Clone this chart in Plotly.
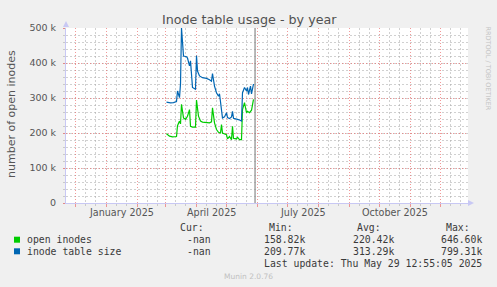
import plotly.graph_objects as go
import pandas as pd

# ---------------- data ----------------
title_text = "Inode table usage - by year"
y_title = "number of open inodes"

green_dates = ["2025-03-02", "2025-03-05", "2025-03-08", "2025-03-12", "2025-03-13", "2025-03-15",
               "2025-03-16", "2025-03-17", "2025-03-19", "2025-03-21", "2025-03-23", "2025-03-25",
               "2025-03-26", "2025-03-28", "2025-03-31", "2025-04-01", "2025-04-03", "2025-04-05",
               "2025-04-07", "2025-04-11", "2025-04-14", "2025-04-16", "2025-04-17", "2025-04-19",
               "2025-04-21", "2025-04-23", "2025-04-25", "2025-04-26", "2025-04-27", "2025-05-01",
               "2025-05-02", "2025-05-04", "2025-05-06", "2025-05-07", "2025-05-08", "2025-05-11",
               "2025-05-12", "2025-05-14", "2025-05-16", "2025-05-17", "2025-05-19", "2025-05-21",
               "2025-05-22", "2025-05-24", "2025-05-26", "2025-05-28"]
green_vals = [198000, 191000, 189000, 190000, 221000, 234000,
              226000, 282000, 243000, 239000, 248000, 267000,
              219000, 217000, 217000, 294000, 248000, 234000,
              231000, 229000, 229000, 232000, 272000, 229000,
              210000, 202000, 200000, 224000, 200000, 195000,
              183000, 190000, 181000, 219000, 185000, 183000,
              188000, 181000, 181000, 267000, 287000, 258000,
              262000, 258000, 265000, 296000]

blue_dates = ["2025-03-02", "2025-03-06", "2025-03-09", "2025-03-12", "2025-03-13", "2025-03-15",
              "2025-03-16", "2025-03-17", "2025-03-19", "2025-03-22", "2025-03-23", "2025-03-25",
              "2025-03-26", "2025-03-28", "2025-03-31", "2025-04-01", "2025-04-02", "2025-04-04",
              "2025-04-07", "2025-04-11", "2025-04-14", "2025-04-16", "2025-04-17", "2025-04-19",
              "2025-04-21", "2025-04-23", "2025-04-24", "2025-04-26", "2025-04-27", "2025-04-29",
              "2025-05-01", "2025-05-02", "2025-05-04", "2025-05-06", "2025-05-07", "2025-05-08",
              "2025-05-11", "2025-05-12", "2025-05-14", "2025-05-16", "2025-05-17", "2025-05-19",
              "2025-05-21", "2025-05-22", "2025-05-23", "2025-05-25", "2025-05-26", "2025-05-28"]
blue_vals = [288000, 286000, 287000, 290000, 320000, 301000,
             340000, 500000, 420000, 418000, 414000, 392000,
             406000, 330000, 325000, 421000, 377000, 363000,
             358000, 356000, 352000, 348000, 370000, 334000,
             315000, 305000, 312000, 253000, 243000, 246000,
             258000, 244000, 241000, 246000, 262000, 242000,
             241000, 239000, 237000, 234000, 315000, 330000,
             320000, 330000, 310000, 334000, 312000, 340000]

y_tickvals = [0, 100000, 200000, 300000, 400000, 500000]
y_ticktext = ["0", "100 k", "200 k", "300 k", "400 k", "500 k"]
x_label_dates = ["2025-01-16", "2025-04-16", "2025-07-16", "2025-10-16"]
x_label_text = ["January 2025", "April 2025", "July 2025", "October 2025"]

series_names = ["open inodes", "inode table size"]
series_colors = ["#00CC00", "#0066B3"]
cur_vals = ["-nan", "-nan"]
min_vals = ["158.82k", "209.77k"]
avg_vals = ["220.42k", "313.29k"]
max_vals = ["646.60k", "799.31k"]
last_update_text = "Last update: Thu May 29 12:55:05 2025"
last_update_ts = "2025-05-29 12:55:05"
x_range = ["2024-11-21 12:00", "2025-12-28 12:00"]

# ---------------- layout geometry ----------------
W, H = 497, 287
PL, PR, PT, PB = 66, 468, 28, 203


def px(x):
    return (x - PL) / (PR - PL)


def py(y):
    return (PB - y) / (PB - PT)


month_starts = pd.date_range("2024-12-01", "2025-12-01", freq="MS")
minor_days = [d for m in pd.date_range("2024-11-01", "2025-12-01", freq="MS")
              for d in (m + pd.Timedelta(days=10), m + pd.Timedelta(days=20))]

fig = go.Figure()
fig.add_trace(go.Scatter(x=green_dates, y=green_vals, mode="lines",
                         line=dict(color=series_colors[0], width=1.2),
                         name=series_names[0], hoverinfo="skip"))
fig.add_trace(go.Scatter(x=blue_dates, y=blue_vals, mode="lines",
                         line=dict(color=series_colors[1], width=1.2),
                         name=series_names[1], hoverinfo="skip"))

RED = "rgba(235,110,110,0.7)"
GRAY = "rgba(170,170,170,0.55)"
AXIS = "#c8c8f4"
DASH = "1px,2px"
MDASH = "2px,2px"

fig.update_layout(
    width=W, height=H, autosize=False,
    margin=dict(l=PL, r=W - PR, t=PT, b=H - PB, pad=0),
    paper_bgcolor="#F0F0F0", plot_bgcolor="#FFFFFF",
    showlegend=False,
    font=dict(family="DejaVu Sans", size=9.5, color="#555555"),
    xaxis=dict(
        type="date", range=x_range, tickmode="array", tickvals=list(month_starts),
        showticklabels=False, showgrid=True, gridcolor=RED, griddash=DASH, gridwidth=1,
        ticks="outside", ticklen=3, tickcolor=RED,
        showline=True, linecolor=AXIS, linewidth=1, zeroline=False,
        minor=dict(tickmode="array", tickvals=minor_days, showgrid=True, gridcolor=GRAY,
                   griddash=MDASH, gridwidth=1, ticks="outside", ticklen=2, tickcolor=GRAY),
    ),
    yaxis=dict(
        range=[0, 500000], tickmode="array", tickvals=y_tickvals, ticktext=y_ticktext,
        showgrid=True, gridcolor=RED, griddash=DASH, gridwidth=1,
        ticks="outside", ticklen=2, tickcolor=RED, ticklabelstandoff=5,
        tickfont=dict(size=9.5, color="#555555"),
        showline=True, linecolor=AXIS, linewidth=1, zeroline=False,
        minor=dict(dtick=20000, showgrid=True, gridcolor=GRAY, griddash=MDASH, gridwidth=1,
                   ticks="outside", ticklen=2, tickcolor=GRAY),
    ),
)

fig.add_vline(x=pd.Timestamp(last_update_ts).value / 1e6, line=dict(color="#8a8a8a", width=1.2))

ann = []
ann.append(dict(text=title_text, x=px(249), y=py(19), xref="paper", yref="paper",
                showarrow=False, xanchor="center", yanchor="middle",
                font=dict(family="DejaVu Sans", size=12.7, color="#505050")))
ann.append(dict(text=y_title, x=px(11), y=py(114), xref="paper", yref="paper", textangle=-90,
                showarrow=False, xanchor="center", yanchor="middle",
                font=dict(family="DejaVu Sans", size=11, color="#555555")))
for d, t in zip(x_label_dates, x_label_text):
    ann.append(dict(text=t, x=d, y=py(212.3), xref="x", yref="paper", showarrow=False,
                    xanchor="center", yanchor="middle",
                    font=dict(family="DejaVu Sans", size=9.6, color="#555555")))
ann.append(dict(text="RRDTOOL / TOBI OETIKER", x=px(487.5), y=py(68), xref="paper", yref="paper",
                textangle=90, showarrow=False, xanchor="center", yanchor="middle",
                font=dict(family="DejaVu Sans", size=6.5, color="#c4c4c4")))

MONO = dict(family="DejaVu Sans Mono", size=9.8, color="#3a3a3a")
for txt, xr in zip(["Cur:", "Min:", "Avg:", "Max:"], [204, 293, 381, 470]):
    ann.append(dict(text=txt, x=px(xr + 2), y=py(227.7), xref="paper", yref="paper",
                    showarrow=False, xanchor="right", yanchor="middle", font=MONO))
row_y = [239.7, 251.3]
for i in range(2):
    ann.append(dict(text=series_names[i], x=px(25), y=py(row_y[i]), xref="paper", yref="paper",
                    showarrow=False, xanchor="left", yanchor="middle", font=MONO))
    for val, xr in zip([cur_vals[i], min_vals[i], avg_vals[i], max_vals[i]], [210.7, 305, 394.3, 482.3]):
        ann.append(dict(text=val, x=px(xr + 2), y=py(row_y[i]), xref="paper", yref="paper",
                        showarrow=False, xanchor="right", yanchor="middle", font=MONO))
ann.append(dict(text=last_update_text, x=px(484.3), y=py(263), xref="paper", yref="paper",
                showarrow=False, xanchor="right", yanchor="middle", font=MONO))
ann.append(dict(text="Munin 2.0.76", x=px(248), y=py(276.3), xref="paper", yref="paper",
                showarrow=False, xanchor="center", yanchor="middle",
                font=dict(family="DejaVu Sans", size=7.5, color="#c0c0c0")))
fig.update_layout(annotations=ann)

# legend colour boxes
for i in range(2):
    fig.add_shape(type="rect", xref="paper", yref="paper",
                  x0=px(14), x1=px(20), y0=py(row_y[i] + 3), y1=py(row_y[i] - 3),
                  fillcolor=series_colors[i], line=dict(width=0))


# axis arrowheads (decoration)
def tri(points):
    return "M " + " L ".join(f"{px(a)},{py(b)}" for a, b in points) + " Z"


fig.add_shape(type="path", xref="paper", yref="paper",
              path=tri([(63, 27), (69, 27), (66, 21)]), fillcolor=AXIS, line=dict(width=0))
fig.add_shape(type="path", xref="paper", yref="paper",
              path=tri([(468, 200), (468, 206), (474, 203)]), fillcolor=AXIS, line=dict(width=0))

fig.write_html("out.html")
